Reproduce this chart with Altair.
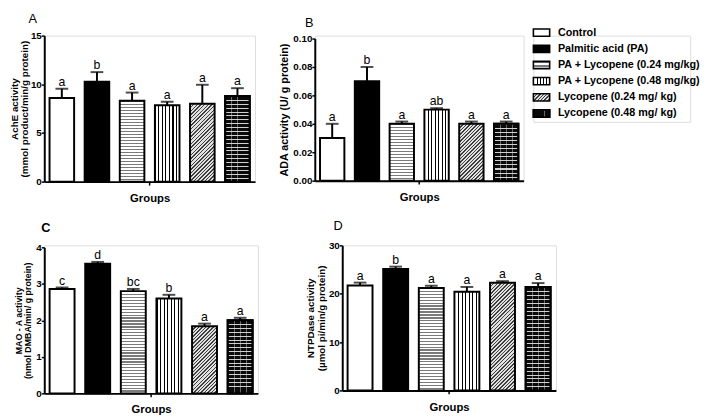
import math
import altair as alt
import pandas as pd

FONT = "Liberation Sans"

GROUPS = [
    "Control",
    "Palmitic acid (PA)",
    "PA + Lycopene (0.24 mg/kg)",
    "PA + Lycopene (0.48 mg/kg)",
    "Lycopene (0.24 mg/ kg)",
    "Lycopene (0.48 mg/ kg)",
]

ACHE_MEAN = [8.6, 10.25, 8.3, 7.85, 8.0, 8.8]
ACHE_ERR = [0.95, 1.0, 0.85, 0.35, 1.95, 0.8]
ACHE_LET = ["a", "b", "a", "a", "a", "a"]

ADA_MEAN = [0.030, 0.070, 0.040, 0.050, 0.040, 0.040]
ADA_ERR = [0.010, 0.010, 0.0016, 0.001, 0.0016, 0.0016]
ADA_LET = ["a", "b", "a", "ab", "a", "a"]

MAO_MEAN = [2.86, 3.55, 2.80, 2.60, 1.84, 2.00]
MAO_ERR = [0.04, 0.05, 0.06, 0.10, 0.07, 0.07]
MAO_LET = ["c", "d", "bc", "b", "a", "a"]

NTP_MEAN = [21.7, 25.1, 21.2, 20.4, 22.25, 21.4]
NTP_ERR = [0.6, 0.5, 0.45, 1.0, 0.35, 0.8]
NTP_LET = ["a", "b", "a", "a", "a", "a"]

PI = 0.30
PO = 0.15


def stripe_stops(n, line, bg, frac):
    stops = []
    for k in range(n):
        a = k / n
        b = (k + frac) / n
        c = (k + 1) / n
        stops += [
            alt.GradientStop(color=line, offset=a),
            alt.GradientStop(color=line, offset=b),
            alt.GradientStop(color=bg, offset=b),
            alt.GradientStop(color=bg, offset=c),
        ]
    return stops


def grad(stops, x1, y1, x2, y2):
    return alt.LinearGradient(gradient="linear", stops=stops, x1=x1, y1=y1, x2=x2, y2=y2)


def fills(i, w, h):
    if i == 0:
        return ["white"]
    if i == 1:
        return ["black"]
    if i == 2:
        n = max(2, round(h / 3.0))
        return [grad(stripe_stops(n, "#7a7a7a", "white", 0.45), 0, 0, 0, 1)]
    if i == 3:
        n = max(2, round(w / 3.6))
        return [grad(stripe_stops(n, "black", "white", 0.3), 0, 0, 1, 0)]
    if i == 4:
        a = (w + h) / (w * w + h * h)
        n = max(2, round((w + h) / (math.sqrt(2) * 2.6)))
        return [grad(stripe_stops(n, "#404040", "#e0e0e0", 0.42), 0, 0, a * w, a * h)]
    n1 = max(2, round(h / 4.0))
    n2 = max(2, round(w / 6.5))
    return [
        grad(stripe_stops(n1, "#d0d0d0", "#0a0a0a", 0.25), 0, 0, 0, 1),
        grad(stripe_stops(n2, "rgba(220,220,220,0.45)", "rgba(0,0,0,0)", 0.12), 0, 0, 1, 0),
    ]


def panel(label, means, errs, letters, W, H, ygap, ymax, yvals, yfmt, ytitle, tsize,
          title_offset, title_dx, title_weight, tline, tpad):
    df = pd.DataFrame({
        "group": GROUPS,
        "mean": means,
        "upper": [m + e for m, e in zip(means, errs)],
        "letter": letters,
    })
    xenc = alt.X(
        "group:N", sort=GROUPS,
        scale=alt.Scale(domain=GROUPS, paddingInner=PI, paddingOuter=PO),
        axis=alt.Axis(title="Groups", labels=False, ticks=False, domainColor="black",
                      domainWidth=2, titleFont=FONT, titleFontSize=11.5,
                      titleFontWeight="bold", titlePadding=11, titleColor="black"),
    )
    yscale = alt.Scale(domain=[0, ymax], nice=False, zero=True, range=[H, ygap])
    yaxis = alt.Axis(values=yvals, format=yfmt, title=ytitle, grid=False,
                     domainColor="black", domainWidth=2, tickColor="black",
                     tickWidth=1.5, tickSize=3, labelFont=FONT, labelFontSize=10,
                     labelFontWeight="bold", labelColor="black", labelPadding=0,
                     titleFont=FONT, titleFontSize=tsize, titleFontWeight="bold",
                     titleColor="black", titlePadding=tpad, titleLineHeight=tline)

    def Y(field):
        return alt.Y(field, scale=yscale, axis=yaxis)

    step = W / (6 - PI + 2 * PO)
    bw = step * (1 - PI)
    layers = []
    for i, g in enumerate(GROUPS):
        h = means[i] / ymax * (H - ygap)
        for f in fills(i, bw, h):
            layers.append(
                alt.Chart(df).transform_filter(alt.datum.group == g)
                .mark_bar(fill=f, stroke="black", strokeWidth=2)
                .encode(x=xenc, y=Y("mean:Q"))
            )
    rule = alt.Chart(df).mark_rule(color="black", strokeWidth=2).encode(
        x=xenc, y=Y("mean:Q"), y2="upper:Q")
    cap = alt.Chart(df).mark_tick(color="black", thickness=2, size=13).encode(
        x=xenc, y=Y("upper:Q"))
    txt = alt.Chart(df).mark_text(font=FONT, fontSize=12.5, baseline="alphabetic",
                                  dy=-3, color="black", fill="black").encode(
        x=xenc, y=Y("upper:Q"), text="letter:N")
    ctick = alt.Chart(df.head(1)).mark_rule(color="black", strokeWidth=1.5).encode(
        x=alt.value(W / 2), y=alt.value(H), y2=alt.value(H + 4))
    return alt.layer(*layers, rule, cap, txt, ctick).properties(
        width=W, height=H,
        title=alt.TitleParams(text=label, anchor="start", frame="group", dx=title_dx,
                              offset=title_offset, fontSize=13, fontWeight=title_weight,
                              font=FONT, color="black"),
    )


A = panel("A", ACHE_MEAN, ACHE_ERR, ACHE_LET, 215, 149, 0, 15, [0, 5, 10, 15], "d",
          ["AchE activity", "(mmol product/min/g protein)"], 10, 5, -16, "normal", 10.5, 1)
B = panel("B", ADA_MEAN, ADA_ERR, ADA_LET, 213, 148, 3, 0.10,
          [0, 0.02, 0.04, 0.06, 0.08, 0.10], ".2f", "ADA activity (U/ g protein)",
          11, 4, -10, "normal", 12, 3)
C = panel("C", MAO_MEAN, MAO_ERR, MAO_LET, 218, 151, 2, 4, [0, 1, 2, 3, 4], "d",
          ["MAO - A activity", "(nmol DMBA/min/ g protein)"], 9, 8, -3, "bold", 9.5, 3)
D = panel("D", NTP_MEAN, NTP_ERR, NTP_LET, 218, 148, 0, 30, [0, 10, 20, 30], "d",
          ["NTPDase activity", "(µmol pi/min/g protein)"], 10, 8, -9, "normal", 11, 2)

# legend built from marks
leg_df = pd.DataFrame({"group": GROUPS})
yleg = alt.Y("group:N", sort=GROUPS,
             scale=alt.Scale(domain=GROUPS, range=[-11.25, 87.75], paddingInner=0.55,
                             paddingOuter=0.275),
             axis=None)
SW_W, SW_H = 16.6, 7.4
leg_layers = []
for i, g in enumerate(GROUPS):
    for f in fills(i, SW_W, SW_H):
        leg_layers.append(
            alt.Chart(leg_df).transform_filter(alt.datum.group == g)
            .mark_rect(fill=f, stroke="black", strokeWidth=1.6)
            .encode(x=alt.value(0), x2=alt.value(SW_W), y=yleg)
        )
leg_text = alt.Chart(leg_df).mark_text(align="left", baseline="middle", font=FONT,
                                       fontSize=11, fontWeight="bold", color="black",
                                       fill="black").encode(
    x=alt.value(25), y=yleg, text="group:N")
legend = alt.layer(*leg_layers, leg_text).properties(width=160, height=88)

top = alt.hconcat(A, alt.hconcat(B, legend, spacing=7), spacing=23)
bottom = alt.hconcat(C, D, spacing=47)
chart = (
    alt.vconcat(top, bottom, spacing=15)
    .properties(padding=0)
    .configure_view(stroke=None)
    .configure_axis(domainColor="black", tickColor="black")
    .configure(background="white")
)

chart.save("out.html", embed_options={"renderer": "svg", "actions": False})
